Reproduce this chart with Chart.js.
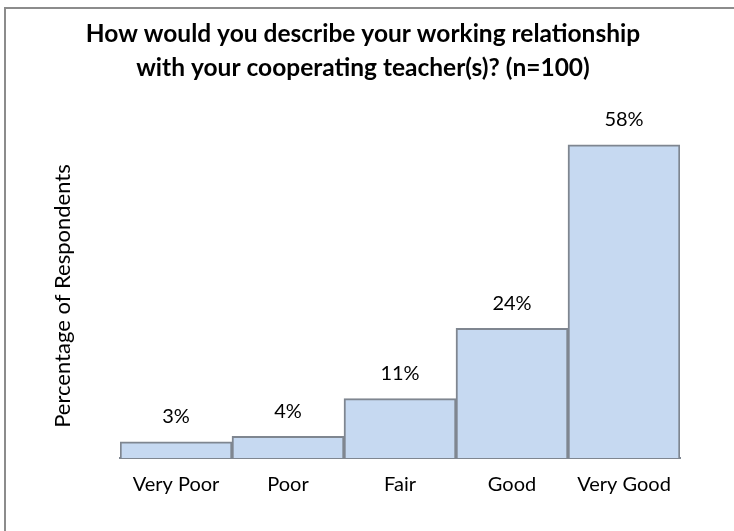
<!DOCTYPE html>
<html>
<head>
<meta charset="utf-8">
<script src="https://cdn.jsdelivr.net/npm/chart.js@4"></script>
<style>
  body { margin: 0; background: #fff; }
  #wrap { position: relative; width: 734px; height: 531px; }
</style>
</head>
<body>
<div id="wrap"><canvas id="chart-canvas" width="734" height="531"></canvas></div>
<script>
// survey answers, percent of respondents
var categories = ['Very Poor', 'Poor', 'Fair', 'Good', 'Very Good'];
var percents = [3, 4, 11, 24, 58];

var ctx = document.getElementById('chart-canvas').getContext('2d');
var fontFamily = 'Lato, "Open Sans", sans-serif';

// gray frame round the whole chart (runs off the right/bottom edge)
var framePlugin = {
    id: 'frame',
    beforeDraw: function (chart) {
        var c = chart.ctx;
        c.save();
        c.strokeStyle = '#8c8c8c';
        c.lineWidth = 2;
        c.strokeRect(5, 8, 760, 560);
        c.restore();
    }
};

// value labels above each bar
var valueLabels = {
    id: 'valueLabels',
    afterDatasetsDraw: function (chart) {
        var c = chart.ctx;
        var meta = chart.getDatasetMeta(0);
        c.save();
        c.font = '20px ' + fontFamily;
        c.fillStyle = '#000';
        c.textAlign = 'center';
        c.textBaseline = 'middle';
        meta.data.forEach(function (bar, i) {
            c.fillText(percents[i] + '%', bar.x, bar.y - 25);
        });
        c.restore();
    }
};

var chart = new Chart(ctx, {
    type: 'bar',
    data: {
        labels: categories,
        datasets: [{
            label: 'Percentage of Respondents',
            data: percents,
            backgroundColor: '#c6d9f1',
            borderColor: '#7f8690',
            borderWidth: 2,
            barPercentage: 1,
            categoryPercentage: 1
        }]
    },
    options: {
        responsive: false,
        animation: false,
        layout: {
            padding: { left: 46, right: 54, top: 0, bottom: 0 }
        },
        plugins: {
            legend: { display: false },
            tooltip: { enabled: false },
            title: {
                display: true,
                text: ['How would you describe your working relationship', 'with your cooperating teacher(s)? (n=100)'],
                color: '#000',
                font: { family: fontFamily, size: 24.5, weight: 'bold', lineHeight: 34 / 24.5 },
                padding: { top: 17.5, bottom: 48.5 }
            }
        },
        scales: {
            x: {
                grid: { display: false, drawTicks: false },
                border: { color: '#7f8690', width: 2 },
                ticks: {
                    color: '#000',
                    padding: 15,
                    font: { family: fontFamily, size: 20 }
                },
                afterFit: function (scale) { scale.height = 73; }
            },
            y: {
                min: 0,
                max: 60,
                grid: { display: false },
                border: { display: false },
                ticks: { display: false },
                title: {
                    display: true,
                    text: 'Percentage of Respondents',
                    color: '#000',
                    font: { family: fontFamily, size: 22 }
                },
                afterFit: function (scale) { scale.width = 74; }
            }
        }
    },
    plugins: [framePlugin, valueLabels]
});
</script>
</body>
</html>
